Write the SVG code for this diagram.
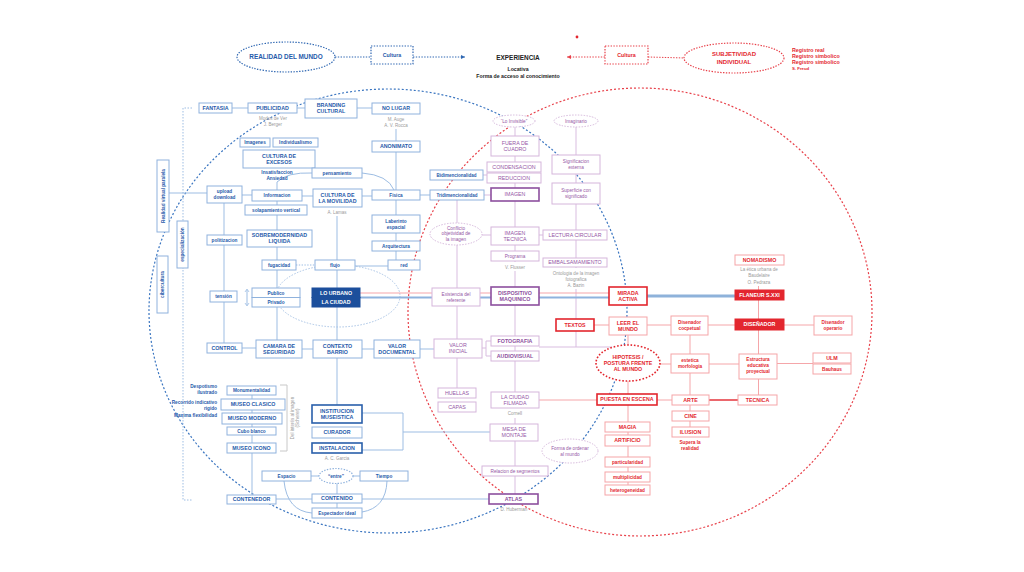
<svg xmlns="http://www.w3.org/2000/svg" width="1024" height="572" viewBox="0 0 1024 572">
<defs>
<style>
text{font-family:"Liberation Sans",Arial,sans-serif;text-anchor:middle}
.bx{fill:#fff;stroke:#8fb2dd;stroke-width:1}
.bxd{fill:#fff;stroke:#2a5fab;stroke-width:1.6}
.bxf{fill:#1c4f9c;stroke:#1c4f9c;stroke-width:1}
.px{fill:#fff;stroke:#d5b6db;stroke-width:1}
.pxd{fill:#fff;stroke:#8d4f9e;stroke-width:1.6}
.rx{fill:#fff;stroke:#f5a5a8;stroke-width:1}
.rxd{fill:#fff;stroke:#e3262e;stroke-width:1.6}
.rxf{fill:#e3262e;stroke:#e3262e;stroke-width:1}
.tb{fill:#1f5aaa;font-size:5.3px;font-weight:bold}
.tbs{fill:#1f5aaa;font-size:4.7px;font-weight:bold}
.tw{fill:#fff;font-size:5.3px;font-weight:bold}
.tp{fill:#9556a5;font-size:5.3px}
.tpd{fill:#8d4f9e;font-size:5.3px;font-weight:bold}
.tps{fill:#9556a5;font-size:4.7px}
.tr{fill:#e3262e;font-size:5.3px;font-weight:bold}
.trs{fill:#e3262e;font-size:4.7px;font-weight:bold}
.tg{fill:#9a9a9a;font-size:4.5px}
.lb{stroke:#9dbde3;stroke-width:1;fill:none}
.lp{stroke:#d9bde0;stroke-width:1;fill:none}
.lr{stroke:#f5a6a9;stroke-width:1;fill:none}
.dotb{fill:#fff;stroke:#2f67b2;stroke-width:1.2;stroke-dasharray:1.4 1.4}
.dotr{fill:#fff;stroke:#e8414a;stroke-width:1.2;stroke-dasharray:1.4 1.4}
.dotp{fill:#fff;stroke:#d5b6db;stroke-width:1;stroke-dasharray:1.4 1.4}
</style>
<marker id="ab" viewBox="0 0 6 6" refX="6" refY="3" markerWidth="4" markerHeight="4" orient="auto"><path d="M0,0L6,3L0,6z" fill="#2f67b2"/></marker>
<marker id="ar" viewBox="0 0 6 6" refX="6" refY="3" markerWidth="4" markerHeight="4" orient="auto"><path d="M0,0L6,3L0,6z" fill="#e8414a"/></marker>
</defs>
<rect width="1024" height="572" fill="#fff"/>

<!-- big circles -->
<g id="circles">
<ellipse cx="388" cy="311" rx="239" ry="222" fill="none" stroke="#3a75c0" stroke-width="1.2" stroke-dasharray="2 2"/>
<ellipse cx="640" cy="312" rx="232" ry="224" fill="none" stroke="#e8414a" stroke-width="1.2" stroke-dasharray="2 2"/>
<ellipse cx="338" cy="296" rx="62" ry="31" fill="none" stroke="#a9c4e6" stroke-width="1" stroke-dasharray="1.5 1.5"/>
<path d="M192,108H183V500H192" fill="none" stroke="#9dbde3" stroke-width="1" stroke-dasharray="1.5 1.5"/>
</g>

<g id="connectors">
<line x1="335" y1="57" x2="371" y2="57" stroke="#2f67b2" stroke-width="1" stroke-dasharray="1.4 1.4"/>
<line x1="413" y1="57" x2="465" y2="57" stroke="#2f67b2" stroke-width="1" stroke-dasharray="1.4 1.4" marker-end="url(#ab)"/>
<line x1="605" y1="57" x2="567" y2="57" stroke="#e8414a" stroke-width="1" stroke-dasharray="1.4 1.4" marker-end="url(#ar)"/>
<line x1="648" y1="57" x2="685" y2="58" stroke="#e8414a" stroke-width="1" stroke-dasharray="1.4 1.4"/>
<!-- blue -->
<path class="lb" d="M232,108H248M297,108H305M357,108H372"/>
<path class="lb" d="M396,129V190"/>
<path class="lb" d="M362,173Q388,175 394,190"/>
<path class="lb" d="M277,182V190M277,182Q287,172 312,173"/>
<path class="lb" d="M169,193H207M242,195H252M302,196H313M362,196H372M420,195H430"/>
<path class="lb" d="M277,201V288M277,307V340"/>
<path class="lb" d="M224,203V343"/>
<path class="lb" d="M242,348H256M302,349H313M362,349H374M420,349H434"/>
<path class="lb" d="M337,216V260M337,270V405"/>
<path class="lb" d="M296,265H315" stroke-dasharray="1.4 1.4"/>
<path class="lb" d="M355,266H388"/>
<path class="lb" d="M396,200V260"/>
<path class="lb" d="M252,395V495"/>
<path class="lb" d="M276,499H312M362,499H489"/>
<path class="lb" d="M311,476H360M337,476V508"/>
<path class="lb" d="M284,481Q287,511 312,513M387,481Q386,508 362,512"/>
<path class="lb" d="M362,413H403V450H362M403,432H490"/>
<path d="M280,385H287V451H280" fill="none" stroke="#c8c8c8" stroke-width="1"/>
<path class="lb" d="M247,290V305"/>
<path d="M245,292L247,289L249,292M245,303L247,306L249,303" fill="none" stroke="#9dbde3" stroke-width="0.8"/>
<!-- purple -->
<path class="lp" d="M515,127V262M515,271V392M515,418V494"/>
<path class="lp" d="M576,127V268M576,289V347"/>
<path class="lp" d="M539,347H612"/>
<path class="lp" d="M491,341H486V356H491M482,348H486"/>
<path class="lp" d="M457,200V388"/>
<path class="lp" d="M482,235H491M539,235H543"/>
<path class="lp" d="M483,175H487M484,195H491"/>
<!-- double line -->
<line x1="360" y1="293" x2="609" y2="293" stroke="#f5a6a9" stroke-width="1.2"/>
<line x1="360" y1="297.5" x2="609" y2="297.5" stroke="#8fb2dd" stroke-width="2"/>
<line x1="647" y1="296" x2="735" y2="296" stroke="#8eb2da" stroke-width="3"/>
<!-- red -->
<path class="lr" d="M594,325H609M647,325H671M708,325H735M784,325H814"/>
<path class="lr" d="M628,335V345M628,381V485"/>
<path class="lr" d="M539,400H597M657,400H672"/>
<line x1="709" y1="400" x2="738" y2="400" stroke="#e3262e" stroke-width="1.4"/>
<path class="lr" d="M660,364H671M709,364H739M777,363.5H813"/>
<path class="lr" d="M690,335V437"/>
<path class="lr" d="M758.5,286V395"/>
</g>

<!-- header -->
<g id="realidad"><ellipse class="dotb" cx="286" cy="57" rx="49" ry="15"/><text class="tb" x="286" y="59.3" style="font-size:6.4px">REALIDAD DEL MUNDO</text></g>
<g id="cultura-l"><rect class="dotb" x="371" y="46" width="42" height="18"/><text class="tb" x="392" y="57">Cultura</text></g>
<g id="experiencia"><text x="518" y="59.5" style="font-size:6.4px;font-weight:bold;fill:#222">EXPERIENCIA</text><text x="518" y="71" style="font-size:5.2px;font-weight:bold;fill:#222">Locativa</text><text x="518" y="77.5" style="font-size:5.2px;font-weight:bold;fill:#222">Forma de acceso al conocimiento</text></g>
<circle cx="577" cy="37" r="1.4" fill="#e3262e"/>
<g id="cultura-r"><rect class="dotr" x="605" y="46" width="43" height="18"/><text class="tr" x="626.5" y="57">Cultura</text></g>
<g id="subjetividad"><ellipse class="dotr" cx="734" cy="58" rx="50" ry="15"/><text class="tr" x="734" y="56" style="font-size:6px">SUBJETIVIDAD</text><text class="tr" x="734" y="64" style="font-size:6px">INDIVIDUAL</text></g>
<g id="registros"><text class="tr" x="792" y="52" style="text-anchor:start">Registro real</text><text class="tr" x="792" y="58" style="text-anchor:start">Registro simbolico</text><text class="tr" x="792" y="64" style="text-anchor:start">Registro simbolico</text><text class="tr" x="792" y="69.5" style="text-anchor:start;font-size:4.3px">S. Freud</text></g>

<!-- left rotated -->
<g id="realidad-virtual"><rect class="bx" x="157" y="160" width="12" height="72"/><text class="tbs" transform="translate(164.7,196) rotate(-90)">Realidad virtual paralela</text></g>
<g id="especializacion"><rect class="bx" x="177" y="221" width="11" height="47"/><text class="tbs" transform="translate(184.2,244.5) rotate(-90)">especialización</text></g>
<g id="cibercultura"><rect class="bx" x="157" y="256" width="11" height="57"/><text class="tbs" transform="translate(164.2,284.5) rotate(-90)">cibercultura</text></g>

<!-- blue nodes -->
<g id="fantasia"><rect class="bx" x="199" y="103" width="33" height="10"/><text class="tb" x="215.5" y="109.9">FANTASIA</text></g>
<g id="publicidad"><rect class="bx" x="248" y="103" width="49" height="10"/><text class="tb" x="272.5" y="109.9">PUBLICIDAD</text><text class="tg" x="273" y="120">Modos de Ver</text><text class="tg" x="273" y="126">J. Berger</text></g>
<g id="branding"><rect class="bx" x="305" y="99" width="52" height="19"/><text class="tb" x="331" y="107.4">BRANDING</text><text class="tb" x="331" y="113.4">CULTURAL</text></g>
<g id="nolugar"><rect class="bx" x="372" y="103" width="48" height="11"/><text class="tb" x="396" y="110.4">NO LUGAR</text><text class="tg" x="396" y="121">M. Auge</text><text class="tg" x="396" y="127">A. V. Rocca</text></g>
<g id="anonimato"><rect class="bx" x="372" y="141" width="48" height="11"/><text class="tb" x="396" y="148.4">ANONIMATO</text></g>
<g id="imagenes"><rect class="bx" x="240" y="138" width="30" height="9"/><text class="tbs" x="255" y="144.2">Imagenes</text></g>
<g id="individualismo"><rect class="bx" x="273" y="138" width="45" height="9"/><text class="tbs" x="295.5" y="144.2">Individualismo</text></g>
<g id="excesos"><rect class="bx" x="243" y="150" width="72" height="18"/><text class="tb" x="279" y="157.9">CULTURA DE</text><text class="tb" x="279" y="163.9">EXCESOS</text></g>
<g id="insatisfaccion"><text class="tbs" x="277" y="174">Insatisfaccion</text><text class="tbs" x="277" y="180">Ansiedad</text></g>
<g id="pensamiento"><rect class="bx" x="312" y="168" width="50" height="10"/><text class="tbs" x="337" y="174.7">pensamiento</text></g>
<g id="upload"><rect class="bx" x="207" y="186" width="35" height="17"/><text class="tbs" x="224.5" y="193.3">upload</text><text class="tbs" x="224.5" y="199.3">download</text></g>
<g id="informacion"><rect class="bx" x="252" y="190" width="50" height="11"/><text class="tbs" x="277" y="197.2">Informacion</text></g>
<g id="movilidad"><rect class="bx" x="313" y="189" width="49" height="18"/><text class="tb" x="337.5" y="196.9">CULTURA DE</text><text class="tb" x="337.5" y="202.9">LA MOVILIDAD</text><text class="tg" x="337" y="214">A. Lamas</text></g>
<g id="fisica"><rect class="bx" x="372" y="190" width="48" height="10"/><text class="tbs" x="396" y="196.7">Fisica</text></g>
<g id="bidim"><rect class="bx" x="430" y="170" width="53" height="10"/><text class="tbs" x="456.5" y="176.6" style="font-size:4.5px">Bidimencionalidad</text></g>
<g id="tridim"><rect class="bx" x="430" y="190" width="54" height="10"/><text class="tbs" x="457" y="196.6" style="font-size:4.5px">Tridimencionalidad</text></g>
<g id="solapamiento"><rect class="bx" x="245" y="205" width="62" height="10"/><text class="tbs" x="276" y="211.7">solapamiento vertical</text></g>
<g id="sobremodernidad"><rect class="bx" x="247" y="230" width="65" height="17"/><text class="tb" x="279.5" y="237.4">SOBREMODERNIDAD</text><text class="tb" x="279.5" y="243.4">LIQUIDA</text></g>
<g id="politizacion"><rect class="bx" x="207" y="235" width="35" height="10"/><text class="tbs" x="224.5" y="241.7">politizacion</text></g>
<g id="laberinto"><rect class="bx" x="372" y="215" width="48" height="18"/><text class="tbs" x="396" y="222.9">Laberinto</text><text class="tbs" x="396" y="228.9">espacial</text></g>
<g id="arquitectura"><rect class="bx" x="372" y="241" width="48" height="10"/><text class="tbs" x="396" y="247.7">Arquitectura</text></g>
<g id="fugacidad"><rect class="bx" x="262" y="260" width="34" height="10"/><text class="tbs" x="279" y="266.7">fugacidad</text></g>
<g id="flujo"><rect class="bx" x="315" y="260" width="40" height="10"/><text class="tbs" x="335" y="266.7">flujo</text></g>
<g id="red"><rect class="bx" x="388" y="260" width="32" height="10"/><text class="tbs" x="404" y="266.7">red</text></g>
<g id="tension"><rect class="bx" x="210" y="291" width="27" height="11"/><text class="tbs" x="223.5" y="298.2">tensión</text></g>
<g id="publico"><rect class="bx" x="252" y="288" width="48" height="9.5"/><text class="tbs" x="276" y="294.5">Publico</text></g>
<g id="privado"><rect class="bx" x="252" y="297.5" width="48" height="9.5"/><text class="tbs" x="276" y="304">Privado</text></g>
<g id="lourbano"><rect class="bxf" x="312" y="288" width="48" height="9.5"/><text class="tw" x="336" y="294.6">LO URBANO</text></g>
<g id="laciudad"><rect class="bxf" x="312" y="297.5" width="48" height="9.5"/><text class="tw" x="336" y="304.1">LA CIUDAD</text></g>
<g id="control"><rect class="bx" x="207" y="343" width="35" height="10"/><text class="tb" x="224.5" y="349.9">CONTROL</text></g>
<g id="camara"><rect class="bx" x="256" y="340" width="46" height="18"/><text class="tb" x="279" y="347.9">CAMARA DE</text><text class="tb" x="279" y="353.9">SEGURIDAD</text></g>
<g id="contexto"><rect class="bx" x="313" y="340" width="49" height="18"/><text class="tb" x="337.5" y="347.9">CONTEXTO</text><text class="tb" x="337.5" y="353.9">BARRIO</text></g>
<g id="valordoc"><rect class="bx" x="374" y="340" width="46" height="18"/><text class="tb" x="397" y="347.9">VALOR</text><text class="tb" x="397" y="353.9">DOCUMENTAL</text></g>
<g id="museo-labels"><text class="tbs" x="217" y="388" style="text-anchor:end">Despotismo</text><text class="tbs" x="217" y="393.5" style="text-anchor:end">ilustrado</text><text class="tbs" x="217" y="404" style="text-anchor:end">Recorrido indicativo</text><text class="tbs" x="217" y="409.5" style="text-anchor:end">rigido</text><text class="tbs" x="217" y="417" style="text-anchor:end">Maxima flexibilidad</text></g>
<g id="monumentalidad"><rect class="bx" x="227" y="386" width="49" height="9"/><text class="tbs" x="251.5" y="392.2">Monumentalidad</text></g>
<g id="museoclasico"><rect class="bx" x="221" y="399" width="64" height="11"/><text class="tb" x="253" y="406.4">MUSEO CLASICO</text></g>
<g id="museomoderno"><rect class="bx" x="222" y="413" width="60" height="11"/><text class="tb" x="252" y="420.4">MUSEO MODERNO</text></g>
<g id="cubo"><rect class="bx" x="227" y="427" width="49" height="8"/><text class="tbs" x="251.5" y="432.7">Cubo blanco</text></g>
<g id="museoicono"><rect class="bx" x="227" y="443" width="49" height="10"/><text class="tb" x="251.5" y="449.9">MUSEO ICONO</text></g>
<g id="museo-note"><text class="tg" transform="translate(294,418) rotate(-90)">Del interés al imagen</text><text class="tg" transform="translate(299,418) rotate(-90)">(Scherer)</text></g>
<g id="contenedor"><rect class="bx" x="227" y="495" width="49" height="9"/><text class="tb" x="251.5" y="501.4">CONTENEDOR</text></g>
<g id="institucion"><rect class="bxd" x="312" y="405" width="50" height="18"/><text class="tb" x="337" y="412.9">INSTITUCION</text><text class="tb" x="337" y="418.9">MUSEISTICA</text></g>
<g id="curador"><rect class="bx" x="312" y="427" width="50" height="11"/><text class="tb" x="337" y="434.4">CURADOR</text></g>
<g id="instalacion"><rect class="bxd" x="312" y="443" width="50" height="10"/><text class="tb" x="337" y="449.9">INSTALACION</text><text class="tg" x="337" y="460">A. C. Garcia</text></g>
<g id="espacio"><rect class="bx" x="262" y="471" width="49" height="10"/><text class="tbs" x="286.5" y="477.7">Espacio</text></g>
<g id="entre"><ellipse class="dotb" cx="336" cy="476" rx="17" ry="7.5" style="stroke:#8fb2dd"/><text class="tbs" x="336" y="477.7">“entre”</text></g>
<g id="tiempo"><rect class="bx" x="360" y="471" width="48" height="10"/><text class="tbs" x="384" y="477.7">Tiempo</text></g>
<g id="contenido"><rect class="bx" x="312" y="494" width="50" height="9"/><text class="tb" x="337" y="500.4">CONTENIDO</text></g>
<g id="espectador"><rect class="bx" x="312" y="508" width="50" height="10"/><text class="tbs" x="337" y="514.7">Espectador ideal</text></g>

<!-- purple nodes -->
<g id="loinvisible"><ellipse class="dotp" cx="514" cy="121" rx="21" ry="6"/><text class="tps" x="514" y="122.7">“Lo Invisible”</text></g>
<g id="imaginario"><ellipse class="dotp" cx="576" cy="121" rx="22" ry="6"/><text class="tps" x="576" y="122.7">Imaginario</text></g>
<g id="fuera"><rect class="px" x="491" y="136" width="48" height="20"/><text class="tp" x="515" y="144.9">FUERA DE</text><text class="tp" x="515" y="150.9">CUADRO</text></g>
<g id="condensacion"><rect class="px" x="487" y="162" width="54" height="10"/><text class="tp" x="514" y="168.9">CONDENSACION</text></g>
<g id="reduccion"><rect class="px" x="487" y="173" width="54" height="10"/><text class="tp" x="514" y="179.9">REDUCCION</text></g>
<g id="imagen"><rect class="pxd" x="491" y="188" width="48" height="13"/><text class="tp" x="515" y="196.4">IMAGEN</text></g>
<g id="conflicto"><ellipse class="dotp" cx="456" cy="234" rx="26" ry="11"/><text class="tps" x="456" y="229.7">Conflicto</text><text class="tps" x="456" y="235.2">objetividad de</text><text class="tps" x="456" y="240.7">la imagen</text></g>
<g id="imagentecnica"><rect class="px" x="491" y="227" width="48" height="18"/><text class="tp" x="515" y="234.9">IMAGEN</text><text class="tp" x="515" y="240.9">TECNICA</text></g>
<g id="programa"><rect class="px" x="491" y="251" width="48" height="10"/><text class="tps" x="515" y="257.8">Programa</text><text class="tg" x="515" y="268.5">V. Flusser</text></g>
<g id="significacion"><rect class="px" x="552" y="155" width="48" height="19"/><text class="tps" x="576" y="163.2">Significacion</text><text class="tps" x="576" y="169.2">externa</text></g>
<g id="superficie"><rect class="px" x="552" y="183" width="48" height="21"/><text class="tps" x="576" y="192.2">Superficie con</text><text class="tps" x="576" y="198.2">significado</text></g>
<g id="lectura"><rect class="px" x="543" y="230" width="64" height="10"/><text class="tp" x="575" y="236.9">LECTURA CIRCULAR</text></g>
<g id="embalsamamiento"><rect class="px" x="543" y="258" width="64" height="9"/><text class="tp" x="575" y="264.4">EMBALSAMAMIENTO</text><text class="tg" x="576" y="274.5">Ontologia de la imagen</text><text class="tg" x="576" y="280.5">fotografica</text><text class="tg" x="576" y="286.5">A. Bazin</text></g>
<g id="existencia"><rect class="px" x="432" y="288" width="48" height="18"/><text class="tps" x="456" y="295.7">Existencia del</text><text class="tps" x="456" y="301.7">referente</text></g>
<g id="dispositivo"><rect class="pxd" x="491" y="287" width="48" height="18"/><text class="tpd" x="515" y="294.9">DISPOSITIVO</text><text class="tpd" x="515" y="300.9">MAQUINICO</text></g>
<g id="valorinicial"><rect class="px" x="434" y="339" width="48" height="19"/><text class="tp" x="458" y="347.4">VALOR</text><text class="tp" x="458" y="353.4">INICIAL</text></g>
<g id="fotografia"><rect class="px" x="491" y="336" width="48" height="10"/><text class="tpd" x="515" y="342.9">FOTOGRAFIA</text></g>
<g id="audiovisual"><rect class="px" x="491" y="351" width="48" height="10"/><text class="tpd" x="515" y="357.9">AUDIOVISUAL</text></g>
<g id="huellas"><rect class="px" x="438" y="388" width="38" height="10"/><text class="tp" x="457" y="394.9">HUELLAS</text></g>
<g id="capas"><rect class="px" x="438" y="402" width="38" height="10"/><text class="tp" x="457" y="408.9">CAPAS</text></g>
<g id="ciudadfilmada"><rect class="px" x="491" y="392" width="48" height="16"/><text class="tp" x="515" y="398.9">LA CIUDAD</text><text class="tp" x="515" y="404.9">FILMADA</text><text class="tg" x="515" y="415">Cornell</text></g>
<g id="mesa"><rect class="px" x="490" y="424" width="48" height="17"/><text class="tp" x="514" y="431.4">MESA DE</text><text class="tp" x="514" y="437.4">MONTAJE</text></g>
<g id="forma"><ellipse class="dotp" cx="570" cy="451" rx="28" ry="12"/><text class="tps" x="570" y="449.5">Forma de ordenar</text><text class="tps" x="570" y="455.5">al mundo</text></g>
<g id="relacion"><rect class="px" x="482" y="466" width="66" height="10"/><text class="tps" x="515" y="472.7">Relacion de segmentos</text></g>
<g id="atlas"><rect class="pxd" x="489" y="494" width="49" height="10"/><text class="tpd" x="513.5" y="500.9">ATLAS</text><text class="tg" x="514" y="511">D. Huberman</text></g>

<!-- red nodes -->
<g id="mirada"><rect class="rxd" x="609" y="287" width="38" height="18"/><text class="tr" x="628" y="294.9">MIRADA</text><text class="tr" x="628" y="300.9">ACTIVA</text></g>
<g id="textos"><rect class="rxd" x="556" y="319" width="38" height="12"/><text class="tr" x="575" y="326.9">TEXTOS</text></g>
<g id="leer"><rect class="rx" x="609" y="317" width="38" height="18"/><text class="tr" x="628" y="324.9">LEER EL</text><text class="tr" x="628" y="330.9">MUNDO</text></g>
<g id="hipotesis"><ellipse cx="628" cy="363" rx="32" ry="18" fill="#fff" stroke="#e3262e" stroke-width="1.6" stroke-dasharray="1.6 1.8"/><text class="tr" x="628" y="358.5">HIPOTESIS /</text><text class="tr" x="628" y="364.5">POSTURA FRENTE</text><text class="tr" x="628" y="370.5">AL MUNDO</text></g>
<g id="puesta"><rect class="rxd" x="597" y="394" width="60" height="11"/><text class="tr" x="627" y="401.4">PUESTA EN ESCENA</text></g>
<g id="magia"><rect class="rx" x="605" y="422" width="45" height="10"/><text class="tr" x="627.5" y="428.9">MAGIA</text></g>
<g id="artificio"><rect class="rx" x="605" y="435" width="45" height="11"/><text class="tr" x="627.5" y="442.4">ARTIFICIO</text></g>
<g id="particularidad"><rect class="rx" x="605" y="457" width="45" height="10"/><text class="trs" x="627.5" y="463.7">particularidad</text></g>
<g id="multiplicidad"><rect class="rx" x="605" y="472" width="45" height="10"/><text class="trs" x="627.5" y="478.7">multiplicidad</text></g>
<g id="heterogeneidad"><rect class="rx" x="605" y="485" width="45" height="10"/><text class="trs" x="627.5" y="491.7">heterogeneidad</text></g>
<g id="nomadismo"><rect class="rx" x="735" y="255" width="49" height="10"/><text class="tr" x="759.5" y="261.9">NOMADISMO</text><text class="tg" x="759" y="271">La ética urbana de</text><text class="tg" x="759" y="277">Baudelaire</text><text class="tg" x="759" y="283.5">O. Pedraza</text></g>
<g id="flaneur"><rect class="rxf" x="735" y="290" width="49" height="10"/><text class="tw" x="759.5" y="296.9">FLANEUR S.XXI</text></g>
<g id="disenador"><rect class="rxf" x="735" y="319" width="49" height="11"/><text class="tw" x="759.5" y="326.4">DISEÑADOR</text></g>
<g id="dconceptual"><rect class="rx" x="671" y="316" width="37" height="19"/><text class="trs" x="689.5" y="324.2">Disenador</text><text class="trs" x="689.5" y="330.2">cocpetual</text></g>
<g id="doperario"><rect class="rx" x="814" y="316" width="38" height="19"/><text class="trs" x="833" y="324.2">Disenador</text><text class="trs" x="833" y="330.2">operario</text></g>
<g id="estetica"><rect class="rx" x="671" y="354" width="38" height="19"/><text class="trs" x="690" y="362.2">estetica</text><text class="trs" x="690" y="368.2">morfologia</text></g>
<g id="estructura"><rect class="rx" x="739" y="354" width="38" height="25"/><text class="trs" x="758" y="361.2">Estructura</text><text class="trs" x="758" y="367.2">educativa</text><text class="trs" x="758" y="373.2">proyectual</text></g>
<g id="ulm"><rect class="rx" x="813" y="353" width="38" height="10"/><text class="tr" x="832" y="359.9">ULM</text></g>
<g id="bauhaus"><rect class="rx" x="813" y="364" width="38" height="10"/><text class="trs" x="832" y="370.7">Bauhaus</text></g>
<g id="arte"><rect class="rx" x="672" y="395" width="37" height="10"/><text class="tr" x="690.5" y="401.9">ARTE</text></g>
<g id="tecnica"><rect class="rx" x="738" y="395" width="39" height="10"/><text class="tr" x="757.5" y="401.9">TECNICA</text></g>
<g id="cine"><rect class="rx" x="672" y="411" width="37" height="10"/><text class="tr" x="690.5" y="417.9">CINE</text></g>
<g id="ilusion"><rect class="rx" x="672" y="427" width="37" height="10"/><text class="tr" x="690.5" y="433.9">ILUSION</text><text class="trs" x="690" y="444">Supera la</text><text class="trs" x="690" y="450">realidad</text></g>
</svg>
